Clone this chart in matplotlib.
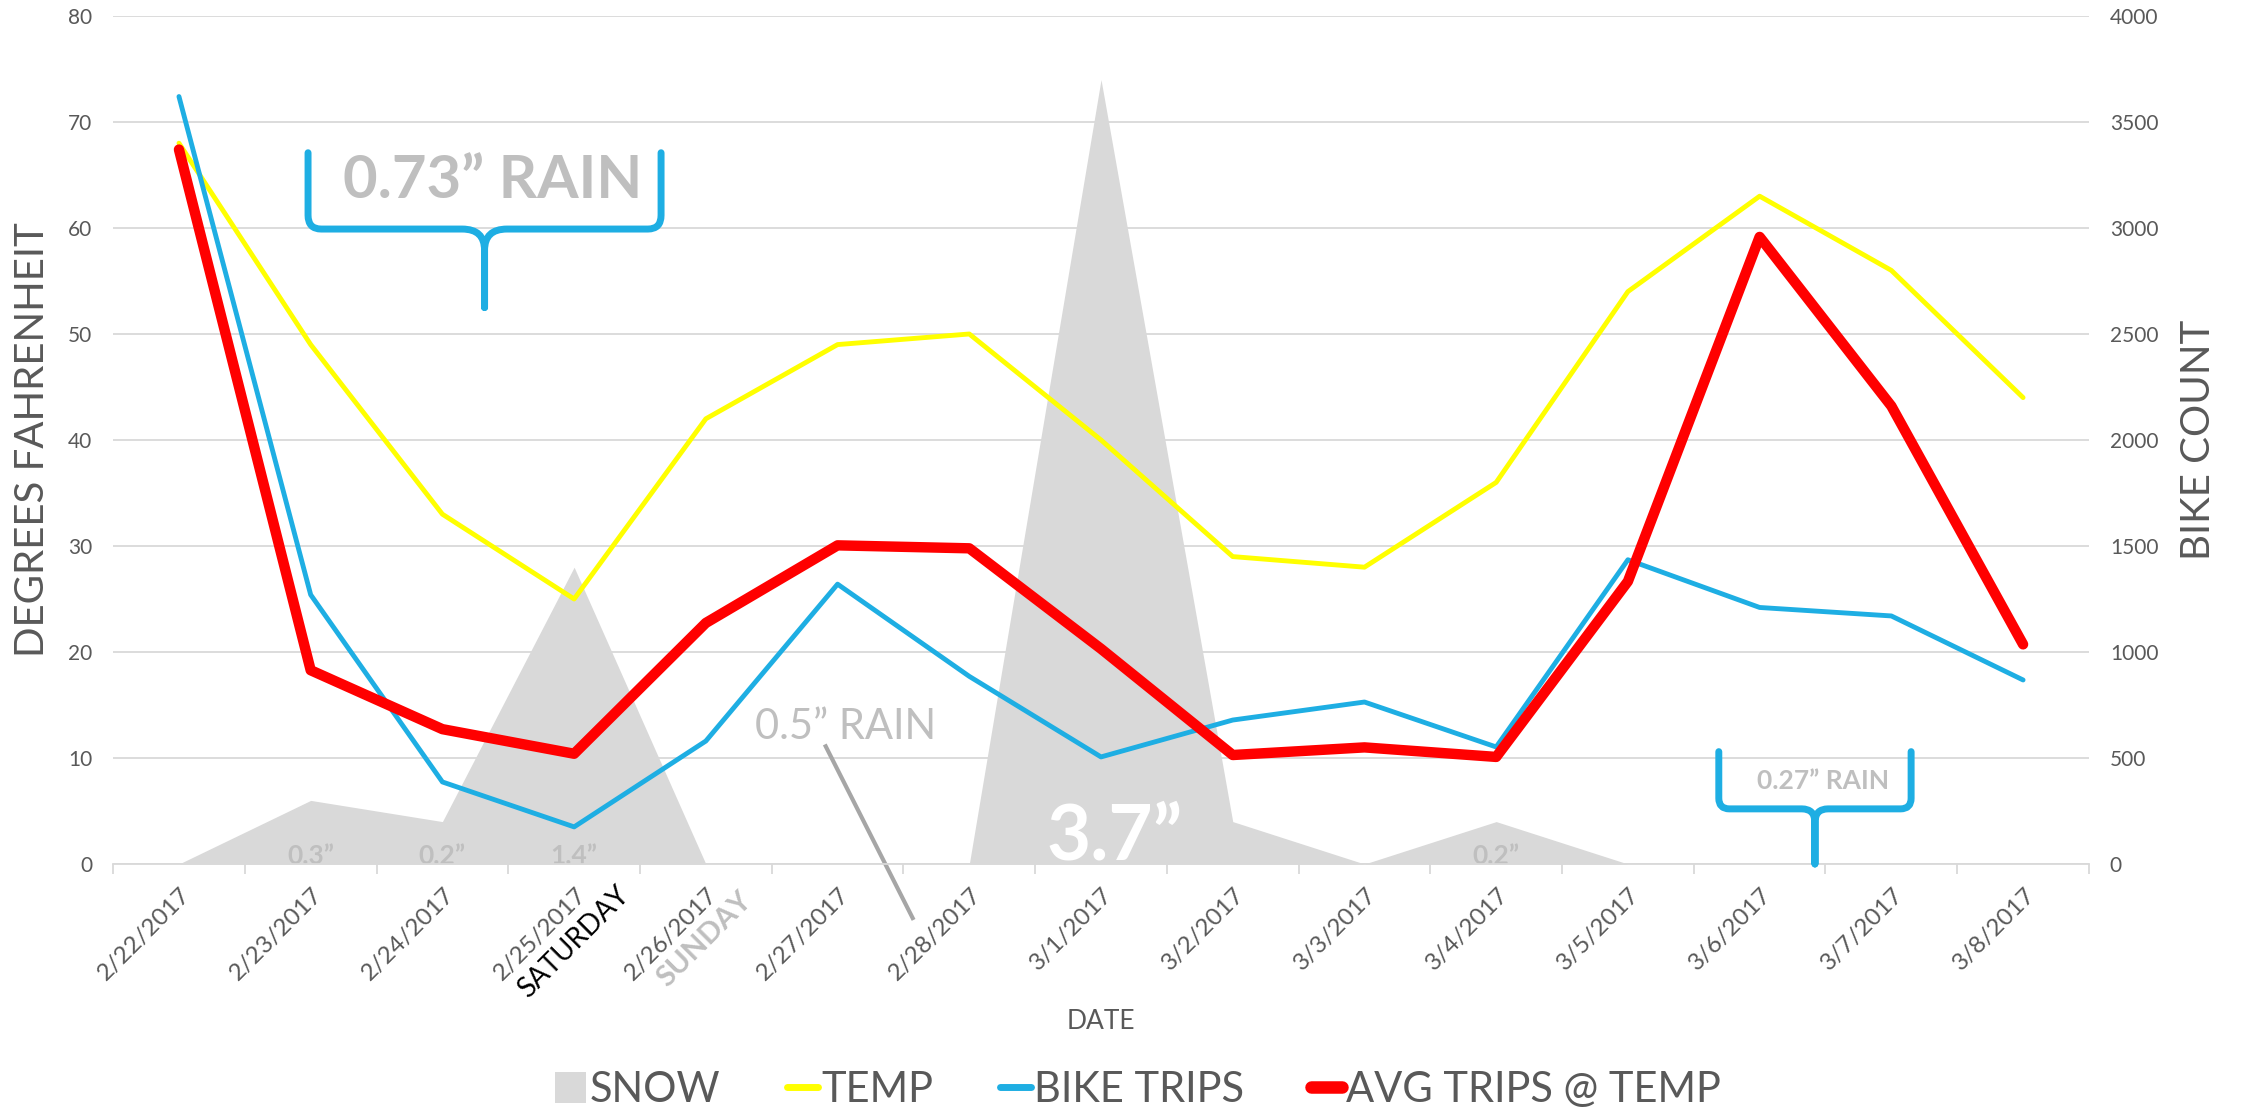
import numpy as np
import matplotlib.pyplot as plt
from matplotlib.path import Path
from matplotlib.patches import PathPatch, Patch
from matplotlib.lines import Line2D
from matplotlib.transforms import ScaledTranslation

plt.rcParams['font.family'] = ['Lato', 'DejaVu Sans']

# daily data, 2/22 - 3/8
dates = ['2/22/2017', '2/23/2017', '2/24/2017', '2/25/2017', '2/26/2017',
         '2/27/2017', '2/28/2017', '3/1/2017', '3/2/2017', '3/3/2017',
         '3/4/2017', '3/5/2017', '3/6/2017', '3/7/2017', '3/8/2017']
snow = [0, 0.3, 0.2, 1.4, 0, 0, 0, 3.7, 0.2, 0, 0.2, 0, 0, 0, 0]
temp = [68, 49, 33, 25, 42, 49, 50, 40, 29, 28, 36, 54, 63, 56, 44]
bike_trips = [3620, 1270, 387, 175, 580, 1320, 885, 505, 679, 764, 552, 1435, 1210, 1170, 868]
avg_trips = [3370, 914, 636, 520, 1137, 1503, 1489, 1015, 514, 550, 505, 1333, 2958, 2160, 1036]

# snowfall labels shown on the area
snow_label_days = [1, 2, 3, 10]
snow_label_text = ['0.3”', '0.2”', '1.4”', '0.2”']

GREY_TXT = '#595959'
LIGHT = '#BFBFBF'
GRID = '#D9D9D9'
BLUE = '#1EAEE3'
YELLOW = '#FFFF00'
RED = '#FF0000'

x = np.arange(len(dates))

fig = plt.figure(figsize=(22.44, 11.18), dpi=100)
ax = fig.add_axes([0.0504, 0.2272, 0.8805, 0.7585])
ax_snow = ax.twinx()
ax2 = ax.twinx()
ax_snow.set_zorder(0)
ax.set_zorder(1)
ax2.set_zorder(2)
ax.patch.set_visible(False)

# snow area (inches) on its own hidden scale, gridlines live here so the area covers them
ax_snow.fill_between(x, snow, 0, color=GRID, lw=0, zorder=1)
ax_snow.set_ylim(0, 4)
ax_snow.set_yticks(np.arange(0, 4.01, 0.5))
ax_snow.grid(axis='y', color=GRID, lw=1.3)
ax_snow.set_axisbelow(True)
ax_snow.tick_params(right=False, labelright=False)
for d, t in zip(snow_label_days, snow_label_text):
    ax_snow.text(d, 0, t, ha='center', va='baseline', color=LIGHT,
                 fontsize=19, fontweight='bold')
ax_snow.text(7.1, 0.02, '3.7”', ha='center', va='baseline', color='white',
             fontsize=55, fontweight='bold')

# temperature
ax.plot(x, temp, color=YELLOW, lw=3.5, solid_capstyle='round', solid_joinstyle='round')
ax.set_xlim(-0.5, len(dates) - 0.5)
ax.set_ylim(0, 80)
ax.set_yticks(np.arange(0, 81, 10))

# bike counts
ax2.plot(x, bike_trips, color=BLUE, lw=3.5, solid_capstyle='round', solid_joinstyle='round')
ax2.plot(x, avg_trips, color=RED, lw=7.5, solid_capstyle='round', solid_joinstyle='round')
ax2.set_ylim(0, 4000)
ax2.set_yticks(np.arange(0, 4001, 500))

for a in (ax, ax_snow, ax2):
    for s in a.spines.values():
        s.set_visible(False)
ax.spines['bottom'].set_visible(True)
ax.spines['bottom'].set_color(GRID)
ax.spines['bottom'].set_linewidth(1.3)

ax.set_xticks(x, dates, rotation=45, ha='right', va='baseline', rotation_mode='anchor')
ax.set_xticks(np.arange(-0.5, len(dates), 1), minor=True)
ax.tick_params(axis='x', which='major', length=0, pad=23, labelsize=17.5, labelcolor=GREY_TXT)
ax.tick_params(axis='x', which='minor', length=7, width=1.3, color=GRID)
ax.tick_params(axis='y', length=0, pad=15, labelsize=15, labelcolor=GREY_TXT)
ax2.tick_params(axis='y', length=0, pad=15, labelsize=15, labelcolor=GREY_TXT)
shift = ScaledTranslation(0.13, 0, fig.dpi_scale_trans)
for lbl in ax.get_xticklabels():
    lbl.set_transform(lbl.get_transform() + shift)

ax.set_xlabel('DATE', fontsize=19, color=GREY_TXT)
ax.xaxis.set_label_coords(0.5, -0.171)
ax.set_ylabel('DEGREES FAHRENHEIT', fontsize=29, color=GREY_TXT)
ax.yaxis.set_label_coords(-0.0314, 0.5)
ax2.set_ylabel('BIKE COUNT', fontsize=29, color=GREY_TXT, rotation=90)
ax2.yaxis.set_label_coords(1.046, 0.5)

# weekend markers under the date labels
ax.annotate('SATURDAY', xy=(3, 0), xycoords=('data', 'axes fraction'),
            xytext=(56, -32), textcoords='offset pixels', rotation=45,
            rotation_mode='anchor', ha='right', va='baseline', fontsize=20, color='black')
ax.annotate('SUNDAY', xy=(4, 0), xycoords=('data', 'axes fraction'),
            xytext=(48, -38), textcoords='offset pixels', rotation=45,
            rotation_mode='anchor', ha='right', va='baseline', fontsize=21,
            color=LIGHT, fontweight='bold')


def brace(a, xl, xr, xc, ytop, yh, ytip, cx, cy, kx, ky, lw):
    M, L, C = Path.MOVETO, Path.LINETO, Path.CURVE3
    verts = [(xl, ytop), (xl, yh + cy), (xl, yh), (xl + cx, yh),
             (xc - kx, yh), (xc, yh), (xc, yh - ky), (xc, ytip),
             (xr, ytop), (xr, yh + cy), (xr, yh), (xr - cx, yh),
             (xc + kx, yh), (xc, yh), (xc, yh - ky), (xc, ytip)]
    codes = [M, L, C, C, L, C, C, L] * 2
    a.add_patch(PathPatch(Path(verts, codes), fill=False, ec=BLUE, lw=lw,
                          capstyle='round', joinstyle='round', clip_on=False, zorder=5))


# rain notes
brace(ax, 0.98, 3.66, 2.32, 67.1, 59.9, 52.5, 0.1, 1.3, 0.17, 2.0, 5)
ax.text(2.38, 64.4, '0.73” RAIN', ha='center', va='center', color=LIGHT,
        fontsize=43, fontweight='bold')

brace(ax, 11.69, 13.15, 12.42, 10.6, 5.2, 0.0, 0.08, 1.0, 0.1, 1.3, 5)
ax.text(12.48, 7.8, '0.27” RAIN', ha='center', va='center', color=LIGHT,
        fontsize=19, fontweight='bold')

ax.text(5.06, 12.9, '0.5” RAIN', ha='center', va='center', color=LIGHT, fontsize=30)
ax.plot([4.91, 5.57], [11.1, -5.1], color='#A6A6A6', lw=3, clip_on=False)

handles = [Patch(facecolor=GRID, edgecolor='none'),
           Line2D([], [], color=YELLOW, lw=5, solid_capstyle='round'),
           Line2D([], [], color=BLUE, lw=5, solid_capstyle='round'),
           Line2D([], [], color=RED, lw=9, solid_capstyle='round')]
fig.legend(handles, ['SNOW', 'TEMP', 'BIKE TRIPS', 'AVG TRIPS @ TEMP'],
           loc='center', bbox_to_anchor=(0.507, 0.025), ncol=4, frameon=False,
           fontsize=30, labelcolor=GREY_TXT, handlelength=0.75, handleheight=0.75,
           handletextpad=0.08, columnspacing=1.6)

fig.savefig('out.png', dpi=100)
